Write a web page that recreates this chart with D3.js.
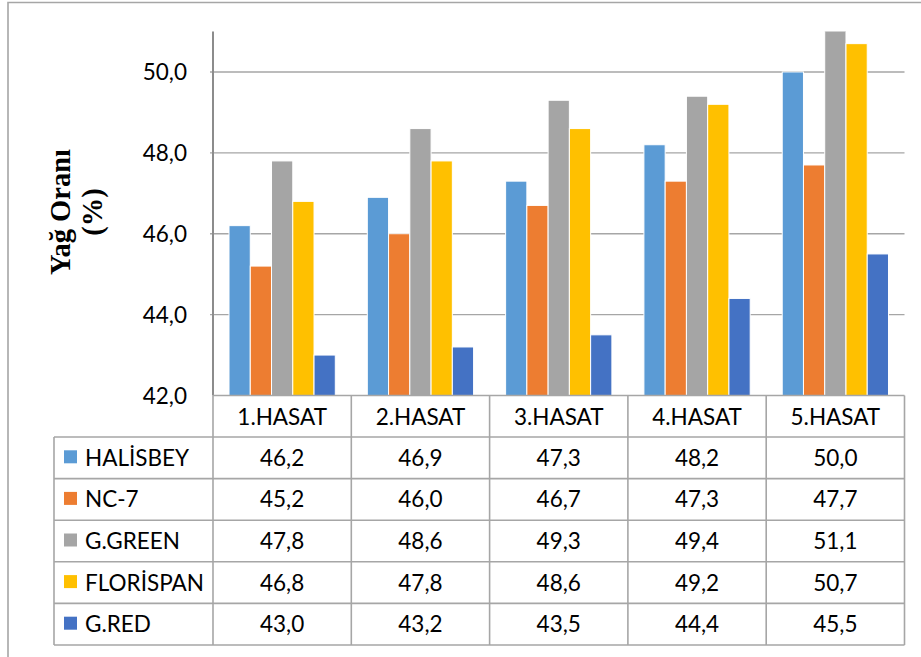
<!DOCTYPE html>
<html><head><meta charset="utf-8">
<script src="https://cdn.jsdelivr.net/npm/d3@7"></script>
<style>body{margin:0;background:#fff}svg{display:block}</style>
</head><body>
<svg id="c" width="921" height="657"></svg>
<script>
const categories = ["1.HASAT","2.HASAT","3.HASAT","4.HASAT","5.HASAT"];
const seriesNames = ["HALİSBEY","NC-7","G.GREEN","FLORİSPAN","G.RED"];
const seriesColors = ["#5B9BD5","#ED7D31","#A5A5A5","#FFC000","#4472C4"];
const halisbey = [46.2,46.9,47.3,48.2,50.0];
const nc7 = [45.2,46.0,46.7,47.3,47.7];
const ggreen = [47.8,48.6,49.3,49.4,51.1];
const florispan = [46.8,47.8,48.6,49.2,50.7];
const gred = [43.0,43.2,43.5,44.4,45.5];
const yTicks = [42,44,46,48,50];
const yDomain = [42,51];
const values = [halisbey,nc7,ggreen,florispan,gred];

const svg = d3.select("#c");
const font = "Lato, 'Open Sans', sans-serif";
const L = 213, R = 904.5, T = 31.5, B = 395.5;
const x0 = d3.scaleBand().domain(categories).range([L,R]).padding(0);
const bw = x0.bandwidth();
const gap = bw*32/138.2;
const x1 = d3.scaleBand().domain(seriesNames).range([gap/2, bw-gap/2]).padding(0);
const y = d3.scaleLinear().domain(yDomain).range([B,T]);
const fmt = v => d3.format(".1f")(v).replace(".",",");

// frame
svg.append("path").attr("d","M8,657 V2.5 H921").attr("fill","none").attr("stroke","#A6A6A6").attr("stroke-width",1.6);

// gridlines
svg.append("g").selectAll("line").data(yTicks.filter(t=>t>yDomain[0])).join("line")
  .attr("x1",L-3).attr("x2",R).attr("y1",d=>y(d)).attr("y2",d=>y(d))
  .attr("stroke","#A6A6A6").attr("stroke-width",1.4);

// y tick labels
svg.append("g").selectAll("text").data(yTicks).join("text")
  .attr("x",187).attr("y",d=>y(d)+8).attr("text-anchor","end")
  .attr("font-family",font).attr("font-size",22.5).attr("fill","#000").text(fmt);

// bars
svg.append("clipPath").attr("id","clip").append("rect").attr("x",L).attr("y",T).attr("width",R-L).attr("height",B-T);
const gBars = svg.append("g").attr("clip-path","url(#clip)");
seriesNames.forEach((s,si)=>{
  gBars.append("g").selectAll("rect").data(values[si]).join("rect")
    .attr("x",(d,i)=>x0(categories[i])+x1(s)).attr("width",x1.bandwidth())
    .attr("y",d=>y(d)).attr("height",d=>B-y(d))
    .attr("fill",seriesColors[si]).attr("stroke","#fff").attr("stroke-width",1);
});

// y axis line
svg.append("line").attr("x1",L).attr("x2",L).attr("y1",T).attr("y2",B)
  .attr("stroke","#8C8C8C").attr("stroke-width",2);

// axis title
const tt = svg.append("text").attr("transform","translate(70,212) rotate(-90)")
  .attr("text-anchor","middle").attr("font-family","'Liberation Serif', 'Times New Roman', serif")
  .attr("font-weight","bold").attr("font-size",28.5).attr("fill","#000");
tt.append("tspan").attr("x",0).attr("y",0).text("Yağ Oranı");
tt.append("tspan").attr("x",0).attr("y",32).text("(%)");

// data table
const tLeft = 54, hTop = B, hBot = 437, rowH = (645-437)/5;
const tg = svg.append("g");
const lc = "#A6A6A6", lw = 1.6;
// header row
tg.append("line").attr("x1",L).attr("x2",R).attr("y1",hTop).attr("y2",hTop).attr("stroke",lc).attr("stroke-width",lw);
for(let r=0;r<=5;r++){
  const yy = hBot + r*rowH;
  tg.append("line").attr("x1",tLeft).attr("x2",R).attr("y1",yy).attr("y2",yy).attr("stroke",lc).attr("stroke-width",lw);
}
tg.append("line").attr("x1",tLeft).attr("x2",tLeft).attr("y1",hBot).attr("y2",hBot+5*rowH).attr("stroke",lc).attr("stroke-width",lw);
tg.selectAll("line.v").data(categories.map(c=>x0(c)).concat([R])).join("line").attr("class","v")
  .attr("x1",d=>d).attr("x2",d=>d).attr("y1",hTop).attr("y2",hBot+5*rowH).attr("stroke",lc).attr("stroke-width",lw);
// header texts
tg.selectAll("text.h").data(categories).join("text").attr("class","h")
  .attr("x",d=>x0(d)+bw/2).attr("y",(hTop+hBot)/2+8.5).attr("text-anchor","middle")
  .attr("font-family",font).attr("font-size",22.5).attr("fill","#000").text(d=>d);
// rows
seriesNames.forEach((s,si)=>{
  const cy = hBot + si*rowH + rowH/2;
  tg.append("rect").attr("x",64).attr("y",cy-7.5).attr("width",13).attr("height",13).attr("fill",seriesColors[si]);
  tg.append("text").attr("x",85).attr("y",cy+8).attr("font-family",font).attr("font-size",22.5).attr("fill","#000").text(s);
  tg.append("g").selectAll("text").data(values[si]).join("text")
    .attr("x",(d,i)=>x0(categories[i])+bw/2).attr("y",cy+8).attr("text-anchor","middle")
    .attr("font-family",font).attr("font-size",22.5).attr("fill","#000").text(fmt);
});
</script>
</body></html>
